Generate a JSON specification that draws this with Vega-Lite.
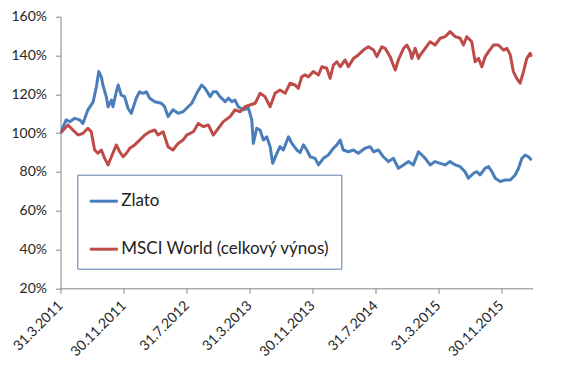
{
  "$schema": "https://vega.github.io/schema/vega-lite/v6.json",
  "autosize": {"type": "none"},
  "width": 472,
  "height": 271.6,
  "padding": {"left": 60.5, "top": 16.7, "right": 28, "bottom": 85},
  "background": "white",
  "config": {
    "view": {"stroke": null},
    "font": "Lato",
    "axis": {"domainColor": "#868686", "tickColor": "#868686", "labelColor": "#262626", "labelFont": "Lato", "labelFontSize": 14, "grid": false}
  },
  "data": {
    "values": [
      {"date": "2011-03-31", "series": "Zlato", "value": 100},
      {"date": "2011-04-22", "series": "Zlato", "value": 106.8},
      {"date": "2011-05-06", "series": "Zlato", "value": 105.9},
      {"date": "2011-05-25", "series": "Zlato", "value": 107.6},
      {"date": "2011-06-13", "series": "Zlato", "value": 106.8},
      {"date": "2011-06-26", "series": "Zlato", "value": 105},
      {"date": "2011-07-15", "series": "Zlato", "value": 112},
      {"date": "2011-08-04", "series": "Zlato", "value": 116},
      {"date": "2011-08-17", "series": "Zlato", "value": 124},
      {"date": "2011-08-26", "series": "Zlato", "value": 131.7},
      {"date": "2011-09-05", "series": "Zlato", "value": 129},
      {"date": "2011-09-11", "series": "Zlato", "value": 124.8},
      {"date": "2011-09-24", "series": "Zlato", "value": 118.8},
      {"date": "2011-10-01", "series": "Zlato", "value": 113.6},
      {"date": "2011-10-14", "series": "Zlato", "value": 117},
      {"date": "2011-10-20", "series": "Zlato", "value": 113.6},
      {"date": "2011-11-02", "series": "Zlato", "value": 121.3},
      {"date": "2011-11-09", "series": "Zlato", "value": 124.8},
      {"date": "2011-11-21", "series": "Zlato", "value": 119.6},
      {"date": "2011-12-04", "series": "Zlato", "value": 118.8},
      {"date": "2011-12-17", "series": "Zlato", "value": 112.8},
      {"date": "2011-12-30", "series": "Zlato", "value": 110.2},
      {"date": "2012-01-18", "series": "Zlato", "value": 118},
      {"date": "2012-01-31", "series": "Zlato", "value": 121.3},
      {"date": "2012-02-13", "series": "Zlato", "value": 120.5},
      {"date": "2012-02-26", "series": "Zlato", "value": 121.3},
      {"date": "2012-03-10", "series": "Zlato", "value": 118},
      {"date": "2012-03-30", "series": "Zlato", "value": 116.2},
      {"date": "2012-04-24", "series": "Zlato", "value": 115.4},
      {"date": "2012-05-07", "series": "Zlato", "value": 113.6},
      {"date": "2012-05-20", "series": "Zlato", "value": 108.5},
      {"date": "2012-06-08", "series": "Zlato", "value": 112},
      {"date": "2012-06-28", "series": "Zlato", "value": 110.2},
      {"date": "2012-07-17", "series": "Zlato", "value": 111},
      {"date": "2012-07-31", "series": "Zlato", "value": 112.8},
      {"date": "2012-08-20", "series": "Zlato", "value": 115.4},
      {"date": "2012-09-08", "series": "Zlato", "value": 120.5},
      {"date": "2012-09-27", "series": "Zlato", "value": 124.8},
      {"date": "2012-10-10", "series": "Zlato", "value": 123.1},
      {"date": "2012-10-30", "series": "Zlato", "value": 118.8},
      {"date": "2012-11-11", "series": "Zlato", "value": 121.3},
      {"date": "2012-11-24", "series": "Zlato", "value": 121.3},
      {"date": "2012-12-07", "series": "Zlato", "value": 118.8},
      {"date": "2012-12-27", "series": "Zlato", "value": 116.2},
      {"date": "2013-01-08", "series": "Zlato", "value": 118},
      {"date": "2013-01-22", "series": "Zlato", "value": 116.2},
      {"date": "2013-02-03", "series": "Zlato", "value": 117},
      {"date": "2013-02-16", "series": "Zlato", "value": 113.6},
      {"date": "2013-03-07", "series": "Zlato", "value": 112},
      {"date": "2013-03-27", "series": "Zlato", "value": 112.8},
      {"date": "2013-04-09", "series": "Zlato", "value": 106.8},
      {"date": "2013-04-15", "series": "Zlato", "value": 94.7},
      {"date": "2013-04-28", "series": "Zlato", "value": 102.5},
      {"date": "2013-05-11", "series": "Zlato", "value": 101.6},
      {"date": "2013-05-24", "series": "Zlato", "value": 96.4},
      {"date": "2013-06-06", "series": "Zlato", "value": 98.1},
      {"date": "2013-06-19", "series": "Zlato", "value": 93},
      {"date": "2013-06-29", "series": "Zlato", "value": 84.4},
      {"date": "2013-07-15", "series": "Zlato", "value": 89.6},
      {"date": "2013-07-27", "series": "Zlato", "value": 93},
      {"date": "2013-08-09", "series": "Zlato", "value": 91.3},
      {"date": "2013-08-29", "series": "Zlato", "value": 98.1},
      {"date": "2013-09-11", "series": "Zlato", "value": 94.7},
      {"date": "2013-09-30", "series": "Zlato", "value": 91.3},
      {"date": "2013-10-13", "series": "Zlato", "value": 90},
      {"date": "2013-10-26", "series": "Zlato", "value": 93.9},
      {"date": "2013-11-08", "series": "Zlato", "value": 91.3},
      {"date": "2013-11-21", "series": "Zlato", "value": 87.8},
      {"date": "2013-12-10", "series": "Zlato", "value": 87},
      {"date": "2013-12-23", "series": "Zlato", "value": 83.6},
      {"date": "2014-01-11", "series": "Zlato", "value": 87},
      {"date": "2014-01-30", "series": "Zlato", "value": 88.7},
      {"date": "2014-02-19", "series": "Zlato", "value": 92.2},
      {"date": "2014-03-04", "series": "Zlato", "value": 93.9},
      {"date": "2014-03-17", "series": "Zlato", "value": 96.4},
      {"date": "2014-03-29", "series": "Zlato", "value": 91.3},
      {"date": "2014-04-18", "series": "Zlato", "value": 90.4},
      {"date": "2014-05-07", "series": "Zlato", "value": 91.3},
      {"date": "2014-05-26", "series": "Zlato", "value": 89.6},
      {"date": "2014-06-21", "series": "Zlato", "value": 92.2},
      {"date": "2014-07-11", "series": "Zlato", "value": 93},
      {"date": "2014-07-24", "series": "Zlato", "value": 90.4},
      {"date": "2014-08-12", "series": "Zlato", "value": 91.3},
      {"date": "2014-08-31", "series": "Zlato", "value": 87.8},
      {"date": "2014-09-20", "series": "Zlato", "value": 85.3},
      {"date": "2014-10-09", "series": "Zlato", "value": 87},
      {"date": "2014-10-28", "series": "Zlato", "value": 81.9},
      {"date": "2014-11-17", "series": "Zlato", "value": 83.6},
      {"date": "2014-12-06", "series": "Zlato", "value": 85.3},
      {"date": "2014-12-25", "series": "Zlato", "value": 83.6},
      {"date": "2015-01-14", "series": "Zlato", "value": 90.4},
      {"date": "2015-01-27", "series": "Zlato", "value": 88.7},
      {"date": "2015-02-09", "series": "Zlato", "value": 87},
      {"date": "2015-02-28", "series": "Zlato", "value": 83.6},
      {"date": "2015-03-19", "series": "Zlato", "value": 85.3},
      {"date": "2015-04-08", "series": "Zlato", "value": 84.4},
      {"date": "2015-04-27", "series": "Zlato", "value": 83.6},
      {"date": "2015-05-16", "series": "Zlato", "value": 85.3},
      {"date": "2015-06-05", "series": "Zlato", "value": 83.6},
      {"date": "2015-06-24", "series": "Zlato", "value": 82.7},
      {"date": "2015-07-13", "series": "Zlato", "value": 80.1},
      {"date": "2015-07-26", "series": "Zlato", "value": 76.7},
      {"date": "2015-08-15", "series": "Zlato", "value": 79.3},
      {"date": "2015-08-28", "series": "Zlato", "value": 80.1},
      {"date": "2015-09-09", "series": "Zlato", "value": 78.4},
      {"date": "2015-09-29", "series": "Zlato", "value": 81.9},
      {"date": "2015-10-12", "series": "Zlato", "value": 82.7},
      {"date": "2015-10-25", "series": "Zlato", "value": 80.1},
      {"date": "2015-11-07", "series": "Zlato", "value": 76.7},
      {"date": "2015-11-26", "series": "Zlato", "value": 75},
      {"date": "2015-12-15", "series": "Zlato", "value": 75.8},
      {"date": "2016-01-04", "series": "Zlato", "value": 75.8},
      {"date": "2016-01-23", "series": "Zlato", "value": 78.4},
      {"date": "2016-02-05", "series": "Zlato", "value": 81.9},
      {"date": "2016-02-18", "series": "Zlato", "value": 87},
      {"date": "2016-03-02", "series": "Zlato", "value": 88.7},
      {"date": "2016-03-14", "series": "Zlato", "value": 87.8},
      {"date": "2016-03-27", "series": "Zlato", "value": 86.1},

      {"date": "2011-03-31", "series": "MSCI World (celkový výnos)", "value": 100},
      {"date": "2011-04-29", "series": "MSCI World (celkový výnos)", "value": 104.2},
      {"date": "2011-05-18", "series": "MSCI World (celkový výnos)", "value": 101.6},
      {"date": "2011-06-07", "series": "MSCI World (celkový výnos)", "value": 99},
      {"date": "2011-06-26", "series": "MSCI World (celkový výnos)", "value": 99.9},
      {"date": "2011-07-15", "series": "MSCI World (celkový výnos)", "value": 102.5},
      {"date": "2011-07-28", "series": "MSCI World (celkový výnos)", "value": 100.7},
      {"date": "2011-08-10", "series": "MSCI World (celkový výnos)", "value": 91.3},
      {"date": "2011-08-23", "series": "MSCI World (celkový výnos)", "value": 89.6},
      {"date": "2011-09-05", "series": "MSCI World (celkový výnos)", "value": 91.3},
      {"date": "2011-09-18", "series": "MSCI World (celkový výnos)", "value": 87},
      {"date": "2011-10-01", "series": "MSCI World (celkový výnos)", "value": 83.6},
      {"date": "2011-10-14", "series": "MSCI World (celkový výnos)", "value": 87.8},
      {"date": "2011-11-02", "series": "MSCI World (celkový výnos)", "value": 93.9},
      {"date": "2011-11-15", "series": "MSCI World (celkový výnos)", "value": 90.4},
      {"date": "2011-11-28", "series": "MSCI World (celkový výnos)", "value": 87.8},
      {"date": "2011-12-11", "series": "MSCI World (celkový výnos)", "value": 89.6},
      {"date": "2011-12-24", "series": "MSCI World (celkový výnos)", "value": 92.2},
      {"date": "2012-01-12", "series": "MSCI World (celkový výnos)", "value": 93.9},
      {"date": "2012-01-31", "series": "MSCI World (celkový výnos)", "value": 96.4},
      {"date": "2012-02-20", "series": "MSCI World (celkový výnos)", "value": 99},
      {"date": "2012-03-10", "series": "MSCI World (celkový výnos)", "value": 100.7},
      {"date": "2012-03-30", "series": "MSCI World (celkový výnos)", "value": 101.6},
      {"date": "2012-04-11", "series": "MSCI World (celkový výnos)", "value": 99},
      {"date": "2012-05-01", "series": "MSCI World (celkový výnos)", "value": 100.7},
      {"date": "2012-05-20", "series": "MSCI World (celkový výnos)", "value": 93},
      {"date": "2012-06-08", "series": "MSCI World (celkový výnos)", "value": 91.3},
      {"date": "2012-06-28", "series": "MSCI World (celkový výnos)", "value": 94.7},
      {"date": "2012-07-17", "series": "MSCI World (celkový výnos)", "value": 96.4},
      {"date": "2012-07-31", "series": "MSCI World (celkový výnos)", "value": 99},
      {"date": "2012-08-26", "series": "MSCI World (celkový výnos)", "value": 100.7},
      {"date": "2012-09-14", "series": "MSCI World (celkový výnos)", "value": 105},
      {"date": "2012-10-04", "series": "MSCI World (celkový výnos)", "value": 103.3},
      {"date": "2012-10-23", "series": "MSCI World (celkový výnos)", "value": 104.2},
      {"date": "2012-11-11", "series": "MSCI World (celkový výnos)", "value": 99},
      {"date": "2012-12-01", "series": "MSCI World (celkový výnos)", "value": 102.5},
      {"date": "2012-12-20", "series": "MSCI World (celkový výnos)", "value": 105.9},
      {"date": "2013-01-15", "series": "MSCI World (celkový výnos)", "value": 108.5},
      {"date": "2013-02-03", "series": "MSCI World (celkový výnos)", "value": 112},
      {"date": "2013-02-23", "series": "MSCI World (celkový výnos)", "value": 111},
      {"date": "2013-03-14", "series": "MSCI World (celkový výnos)", "value": 113.6},
      {"date": "2013-04-02", "series": "MSCI World (celkový výnos)", "value": 114.5},
      {"date": "2013-04-22", "series": "MSCI World (celkový výnos)", "value": 115.4},
      {"date": "2013-05-11", "series": "MSCI World (celkový výnos)", "value": 120.5},
      {"date": "2013-05-30", "series": "MSCI World (celkový výnos)", "value": 118.8},
      {"date": "2013-06-19", "series": "MSCI World (celkový výnos)", "value": 113.6},
      {"date": "2013-07-08", "series": "MSCI World (celkový výnos)", "value": 120.5},
      {"date": "2013-07-27", "series": "MSCI World (celkový výnos)", "value": 122.2},
      {"date": "2013-08-16", "series": "MSCI World (celkový výnos)", "value": 120.5},
      {"date": "2013-09-04", "series": "MSCI World (celkový výnos)", "value": 125.7},
      {"date": "2013-09-23", "series": "MSCI World (celkový výnos)", "value": 124.8},
      {"date": "2013-10-06", "series": "MSCI World (celkový výnos)", "value": 123.1},
      {"date": "2013-10-19", "series": "MSCI World (celkový výnos)", "value": 129},
      {"date": "2013-11-01", "series": "MSCI World (celkový výnos)", "value": 130},
      {"date": "2013-11-14", "series": "MSCI World (celkový výnos)", "value": 129},
      {"date": "2013-12-03", "series": "MSCI World (celkový výnos)", "value": 131.7},
      {"date": "2013-12-23", "series": "MSCI World (celkový výnos)", "value": 130},
      {"date": "2014-01-05", "series": "MSCI World (celkový výnos)", "value": 134.2},
      {"date": "2014-01-24", "series": "MSCI World (celkový výnos)", "value": 133.4},
      {"date": "2014-02-06", "series": "MSCI World (celkový výnos)", "value": 128.2},
      {"date": "2014-02-19", "series": "MSCI World (celkový výnos)", "value": 135.1},
      {"date": "2014-03-04", "series": "MSCI World (celkový výnos)", "value": 136.8},
      {"date": "2014-03-17", "series": "MSCI World (celkový výnos)", "value": 134.2},
      {"date": "2014-04-05", "series": "MSCI World (celkový výnos)", "value": 137.7},
      {"date": "2014-04-18", "series": "MSCI World (celkový výnos)", "value": 134.2},
      {"date": "2014-05-07", "series": "MSCI World (celkový výnos)", "value": 138.5},
      {"date": "2014-05-26", "series": "MSCI World (celkový výnos)", "value": 140.3},
      {"date": "2014-06-15", "series": "MSCI World (celkový výnos)", "value": 142.8},
      {"date": "2014-07-04", "series": "MSCI World (celkový výnos)", "value": 144.5},
      {"date": "2014-07-24", "series": "MSCI World (celkový výnos)", "value": 142.8},
      {"date": "2014-08-06", "series": "MSCI World (celkový výnos)", "value": 139.4},
      {"date": "2014-08-25", "series": "MSCI World (celkový výnos)", "value": 144.5},
      {"date": "2014-09-07", "series": "MSCI World (celkový výnos)", "value": 143.7},
      {"date": "2014-09-26", "series": "MSCI World (celkový výnos)", "value": 139.4},
      {"date": "2014-10-16", "series": "MSCI World (celkový výnos)", "value": 132.5},
      {"date": "2014-10-28", "series": "MSCI World (celkový výnos)", "value": 137.7},
      {"date": "2014-11-17", "series": "MSCI World (celkový výnos)", "value": 143.7},
      {"date": "2014-11-30", "series": "MSCI World (celkový výnos)", "value": 145.4},
      {"date": "2014-12-13", "series": "MSCI World (celkový výnos)", "value": 142},
      {"date": "2014-12-19", "series": "MSCI World (celkový výnos)", "value": 138.5},
      {"date": "2015-01-01", "series": "MSCI World (celkový výnos)", "value": 143.7},
      {"date": "2015-01-14", "series": "MSCI World (celkový výnos)", "value": 138.5},
      {"date": "2015-01-21", "series": "MSCI World (celkový výnos)", "value": 140.3},
      {"date": "2015-02-09", "series": "MSCI World (celkový výnos)", "value": 143.7},
      {"date": "2015-02-28", "series": "MSCI World (celkový výnos)", "value": 147.1},
      {"date": "2015-03-19", "series": "MSCI World (celkový výnos)", "value": 145.4},
      {"date": "2015-04-08", "series": "MSCI World (celkový výnos)", "value": 148.9},
      {"date": "2015-04-27", "series": "MSCI World (celkový výnos)", "value": 149.7},
      {"date": "2015-05-16", "series": "MSCI World (celkový výnos)", "value": 152.3},
      {"date": "2015-06-05", "series": "MSCI World (celkový výnos)", "value": 149.7},
      {"date": "2015-06-24", "series": "MSCI World (celkový výnos)", "value": 148.9},
      {"date": "2015-07-07", "series": "MSCI World (celkový výnos)", "value": 145.4},
      {"date": "2015-07-20", "series": "MSCI World (celkový výnos)", "value": 149.7},
      {"date": "2015-08-08", "series": "MSCI World (celkový výnos)", "value": 147.1},
      {"date": "2015-08-21", "series": "MSCI World (celkový výnos)", "value": 136.8},
      {"date": "2015-09-03", "series": "MSCI World (celkový výnos)", "value": 138.5},
      {"date": "2015-09-16", "series": "MSCI World (celkový výnos)", "value": 134.2},
      {"date": "2015-09-29", "series": "MSCI World (celkový výnos)", "value": 139.4},
      {"date": "2015-10-12", "series": "MSCI World (celkový výnos)", "value": 142},
      {"date": "2015-10-31", "series": "MSCI World (celkový výnos)", "value": 145.4},
      {"date": "2015-11-19", "series": "MSCI World (celkový výnos)", "value": 145.4},
      {"date": "2015-12-09", "series": "MSCI World (celkový výnos)", "value": 142.8},
      {"date": "2015-12-22", "series": "MSCI World (celkový výnos)", "value": 143.7},
      {"date": "2016-01-04", "series": "MSCI World (celkový výnos)", "value": 140.3},
      {"date": "2016-01-16", "series": "MSCI World (celkový výnos)", "value": 131.7},
      {"date": "2016-01-29", "series": "MSCI World (celkový výnos)", "value": 128.2},
      {"date": "2016-02-11", "series": "MSCI World (celkový výnos)", "value": 125.7},
      {"date": "2016-02-24", "series": "MSCI World (celkový výnos)", "value": 131.7},
      {"date": "2016-03-08", "series": "MSCI World (celkový výnos)", "value": 138.5},
      {"date": "2016-03-21", "series": "MSCI World (celkový výnos)", "value": 141.1},
      {"date": "2016-03-27", "series": "MSCI World (celkový výnos)", "value": 139.4}
    ]
  },
  "mark": {"type": "line", "strokeWidth": 3, "strokeJoin": "round", "clip": true},
  "encoding": {
    "x": {
      "field": "date",
      "type": "temporal",
      "scale": {
        "type": "utc",
        "domain": [{"year": 2011, "month": 3, "date": 31, "utc": true}, {"year": 2016, "month": 3, "date": 30, "utc": true}],
        "nice": false
      },
      "axis": {
        "title": null,
        "values": [
          {"year": 2011, "month": 3, "date": 31, "utc": true},
          {"year": 2011, "month": 11, "date": 30, "utc": true},
          {"year": 2012, "month": 7, "date": 31, "utc": true},
          {"year": 2013, "month": 3, "date": 31, "utc": true},
          {"year": 2013, "month": 11, "date": 30, "utc": true},
          {"year": 2014, "month": 7, "date": 31, "utc": true},
          {"year": 2015, "month": 3, "date": 31, "utc": true},
          {"year": 2015, "month": 11, "date": 30, "utc": true}
        ],
        "format": "%-d.%-m.%Y",
        "labelAngle": -45,
        "labelAlign": "right",
        "labelBaseline": "middle",
        "labelPadding": 10,
        "tickSize": 5,
        "labelOverlap": false,
        "labelBound": false,
        "labelFlush": false
      }
    },
    "y": {
      "field": "value",
      "type": "quantitative",
      "scale": {"domain": [20, 160], "nice": false, "zero": false},
      "axis": {
        "title": null,
        "values": [20, 40, 60, 80, 100, 120, 140, 160],
        "labelExpr": "datum.value + '%'",
        "tickSize": 5,
        "labelPadding": 9
      }
    },
    "color": {
      "field": "series",
      "type": "nominal",
      "sort": ["Zlato", "MSCI World (celkový výnos)"],
      "scale": {"domain": ["Zlato", "MSCI World (celkový výnos)"], "range": ["#4A7EBB", "#BE4B48"]},
      "legend": {
        "title": null,
        "orient": "none",
        "legendX": 16.8,
        "legendY": 158,
        "fillColor": "white",
        "strokeColor": "#5A7DAA",
        "padding": 11,
        "rowPadding": 24,
        "symbolType": "stroke",
        "symbolSize": 784,
        "symbolStrokeWidth": 3,
        "labelFont": "Lato",
        "labelFontSize": 17,
        "labelColor": "#222222",
        "labelOffset": 2,
        "labelLimit": 400
      }
    }
  }
}
